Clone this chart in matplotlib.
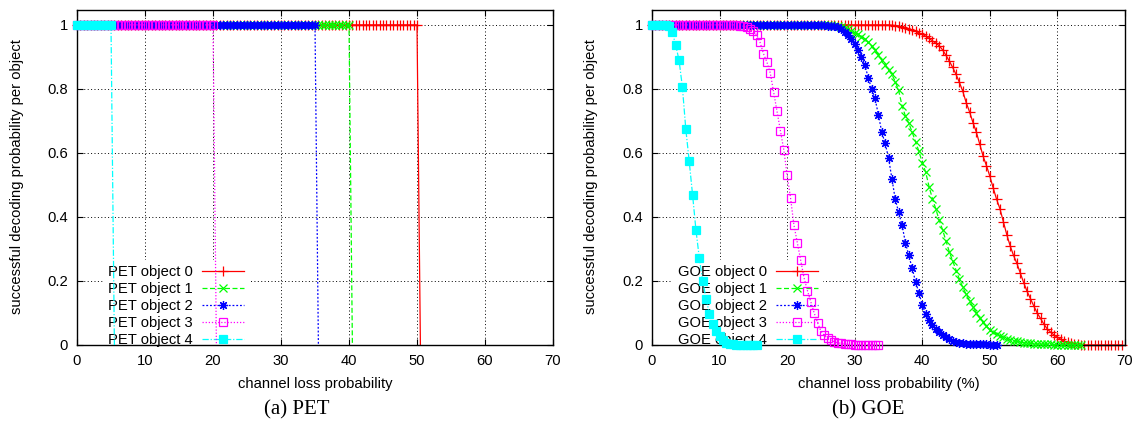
import numpy as np
import matplotlib
matplotlib.use("Agg")
import matplotlib.pyplot as plt

plt.rcParams['font.family'] = ['Liberation Sans', 'DejaVu Sans']

# ---------------- data ----------------
# PET: decoding succeeds with probability 1 up to a loss threshold, then drops to 0
pet_labels = ["PET object 0", "PET object 1", "PET object 2", "PET object 3", "PET object 4"]
pet_thresholds = [50.0, 40.0, 35.0, 20.0, 5.0]
loss_step = 0.5

# GOE: probability per loss value, sampled every 0.5 % starting at 0
goe_labels = ["GOE object 0", "GOE object 1", "GOE object 2", "GOE object 3", "GOE object 4"]
goe_obj0 = [1.0] * 71 + [
    0.999, 0.998, 0.996, 0.994, 0.991,
    0.988, 0.984, 0.980, 0.975, 0.970,
    0.965, 0.958, 0.950, 0.943, 0.935,
    0.922, 0.905, 0.887, 0.867, 0.845,
    0.820, 0.792, 0.757, 0.728, 0.695,
    0.665, 0.628, 0.590, 0.560, 0.527,
    0.490, 0.455, 0.425, 0.385, 0.345,
    0.310, 0.280, 0.255, 0.225, 0.195,
    0.168, 0.145, 0.122, 0.100, 0.083,
    0.065, 0.050, 0.040, 0.031, 0.024,
    0.018, 0.012, 0.008, 0.005, 0.003,
    0.002, 0.001, 0.0, 0.0, 0.0,
    0.0, 0.0, 0.0, 0.0, 0.0, 0.0, 0.0, 0.0, 0.0]
goe_obj1 = [1.0] * 53 + [
    0.999, 0.998, 0.996, 0.994, 0.991,
    0.986, 0.980, 0.975, 0.970, 0.963,
    0.955, 0.945, 0.933, 0.920, 0.907,
    0.890, 0.875, 0.860, 0.845, 0.823,
    0.795, 0.748, 0.715, 0.693, 0.665,
    0.635, 0.605, 0.570, 0.540, 0.495,
    0.457, 0.425, 0.390, 0.360, 0.325,
    0.291, 0.262, 0.232, 0.205, 0.180,
    0.158, 0.138, 0.118, 0.101, 0.084,
    0.071, 0.058, 0.048, 0.040, 0.034,
    0.029, 0.024, 0.020, 0.017, 0.014,
    0.011, 0.009, 0.007, 0.006, 0.005,
    0.004, 0.003, 0.003, 0.002, 0.002,
    0.002, 0.001, 0.001, 0.001, 0.001,
    0.001, 0.001, 0.0, 0.0, 0.0]
goe_obj2 = [1.0] * 51 + [
    0.999, 0.998, 0.997, 0.995, 0.992,
    0.986, 0.978, 0.968, 0.955, 0.940,
    0.920, 0.900, 0.875, 0.835, 0.800,
    0.770, 0.720, 0.665, 0.630, 0.585,
    0.520, 0.455, 0.415, 0.375, 0.320,
    0.280, 0.240, 0.198, 0.163, 0.125,
    0.098, 0.077, 0.063, 0.050, 0.040,
    0.031, 0.024, 0.018, 0.013, 0.009,
    0.007, 0.005, 0.004, 0.003, 0.003,
    0.002, 0.002, 0.002, 0.002, 0.001,
    0.001, 0.001]
goe_obj3 = [1.0] * 26 + [
    0.998, 0.996, 0.993, 0.988, 0.982,
    0.968, 0.945, 0.910, 0.884, 0.850,
    0.790, 0.730, 0.670, 0.610, 0.530,
    0.460, 0.375, 0.320, 0.265, 0.210,
    0.170, 0.135, 0.100, 0.070, 0.043,
    0.030, 0.021, 0.015, 0.010, 0.007,
    0.005, 0.003, 0.002, 0.002, 0.001,
    0.001, 0.001, 0.0, 0.0, 0.0,
    0.0, 0.0]
goe_obj4 = [1.0] * 5 + [
    0.995, 0.978, 0.937, 0.890, 0.805,
    0.675, 0.575, 0.470, 0.360, 0.272,
    0.200, 0.145, 0.098, 0.065, 0.045,
    0.027, 0.015, 0.007, 0.004, 0.002,
    0.001, 0.001, 0.0, 0.0, 0.0,
    0.0, 0.0]
goe_series = [goe_obj0, goe_obj1, goe_obj2, goe_obj3, goe_obj4]

x_ticks = [0, 10, 20, 30, 40, 50, 60, 70]
y_ticks = [0, 0.2, 0.4, 0.6, 0.8, 1.0]
y_ticklabels = ["0", "0.2", "0.4", "0.6", "0.8", "1"]

# ---------------- styles (gnuplot-like) ----------------
styles = [
    dict(color="#ff0000", linestyle="-", marker="+", markersize=6.5, mfc="#ff0000"),
    dict(color="#00ff00", linestyle=(0, (4, 2)), marker="x", markersize=5.5, mfc="#00ff00"),
    dict(color="#0000ff", linestyle=(0, (1.5, 1.5)), marker=(8, 2, 0), markersize=6.5, mfc="#0000ff"),
    dict(color="#ff00ff", linestyle=(0, (1, 1.5)), marker="s", markersize=5.5, mfc="none"),
    dict(color="#00ffff", linestyle=(0, (5, 1.5, 1, 1.5)), marker="s", markersize=5.5, mfc="#00ffff"),
]

FS = 10.6

fig = plt.figure(figsize=(11.36, 4.28), dpi=100)
W, H = 1136.0, 428.0
ax_pet = fig.add_axes([77 / W, 1 - 345 / H, 476 / W, 335.5 / H])
ax_goe = fig.add_axes([652 / W, 1 - 345 / H, 473 / W, 335.5 / H])


def style_axes(ax, xlabel, ylab_x):
    ax.set_xlim(0, 70)
    ax.set_ylim(0, 1.048)
    ax.set_xticks(x_ticks)
    ax.set_yticks(y_ticks)
    ax.set_yticklabels(y_ticklabels)
    ax.tick_params(direction="in", length=4.5, width=0.8, top=True, right=True,
                   labelsize=FS, pad=6.5, colors="black")
    ax.set_axisbelow(True)
    ax.grid(True, color="black", linestyle=(0, (1, 2.5)), linewidth=0.7)
    for sp in ax.spines.values():
        sp.set_linewidth(1.0)
        sp.set_color("black")
    ax.set_xlabel(xlabel, fontsize=FS)
    ax.set_ylabel("successful decoding probability per object", fontsize=FS)
    ax.xaxis.set_label_coords(0.5, -0.095)
    ax.yaxis.set_label_coords(ylab_x, 0.502)


def draw(ax, xs, ys, label, st, z, markevery=None):
    ax.plot(xs, ys, label=label, color=st["color"], linestyle=st["linestyle"],
            linewidth=0.9, marker=st["marker"], markersize=st["markersize"],
            markerfacecolor=st["mfc"], markeredgecolor=st["color"],
            markeredgewidth=0.9, clip_on=False, zorder=z, markevery=markevery)


# PET panel: markers on the plateau, the line falls to zero just after it
for i, (lab, thr) in enumerate(zip(pet_labels, pet_thresholds)):
    n = int(round(thr / loss_step)) + 1
    xs = np.arange(n + 1) * loss_step
    ys = [1.0] * n + [0.0]
    draw(ax_pet, xs, ys, lab, styles[i], 2 + i, markevery=slice(0, n))
style_axes(ax_pet, "channel loss probability", -0.111)

# GOE panel
for i, (lab, ys) in enumerate(zip(goe_labels, goe_series)):
    xs = np.arange(len(ys)) * loss_step
    draw(ax_goe, xs, ys, lab, styles[i], 2 + i)
style_axes(ax_goe, "channel loss probability (%)", -0.114)

for ax, cx in [(ax_pet, 0.208), (ax_goe, 0.202)]:
    leg = ax.legend(loc="center", bbox_to_anchor=(cx, 0.116), fontsize=FS,
                    markerfirst=False, numpoints=1, handlelength=2.85,
                    handletextpad=0.6, labelspacing=0.2, borderpad=0.35,
                    borderaxespad=0, frameon=True, fancybox=False,
                    framealpha=1.0, facecolor="white", edgecolor="none")
    leg.set_zorder(1)

fig.text(297 / W, 1 - 410 / H, "(a) PET", fontsize=15, ha="center", va="center",
         family=["Liberation Serif", "DejaVu Serif"])
fig.text(868 / W, 1 - 410 / H, "(b) GOE", fontsize=15, ha="center", va="center",
         family=["Liberation Serif", "DejaVu Serif"])

fig.savefig("out.png", dpi=100)
